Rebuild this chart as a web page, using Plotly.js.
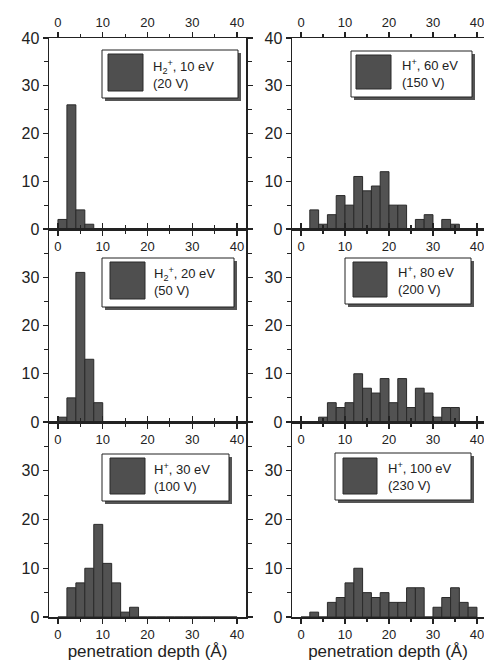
<!DOCTYPE html>
<html><head><meta charset="utf-8">
<script src="https://cdn.plot.ly/plotly-3.0.1.min.js"></script>
<style>html,body{margin:0;padding:0;background:#fff}</style>
</head><body><div id="chart" style="width:484px;height:664px"></div>
<script>
// bin centres (Å), bins 2 Å wide: 0-2, 2-4, ... 38-40
const depthBins = [1,3,5,7,9,11,13,15,17,19,21,23,25,27,29,31,33,35,37,39];
// counts per bin
const h2_10eV  = [2,26,4,1,0,0,0,0,0,0,0,0,0,0,0,0,0,0,0,0];
const h2_20eV  = [1,5,31,13,4,0,0,0,0,0,0,0,0,0,0,0,0,0,0,0];
const h_30eV   = [0,6,7,10,19,11,7,1,2,0,0,0,0,0,0,0,0,0,0,0];
const h_60eV   = [0,4,1,3,7,5,11,8,9,12,5,5,0,2,3,0,2,1,0,0];
const h_80eV   = [0,0,1,4,3,4,10,7,6,9,4,9,3,7,6,1,3,3,0,0];
const h_100eV  = [0,1,0,3,4,7,10,5,4,5,3,3,6,6,0,2,4,6,3,2];
const xTickVals = [0,10,20,30,40];
const yTickValsTop = [0,10,20,30,40];
const yTickValsLower = [0,10,20,30];
const minorTickVals = [5,15,25,35];
const panelLabels = [
  "H<sub>2</sub><sup>+</sup>, 10 eV<br>(20 V)",
  "H<sup>+</sup>, 60 eV<br>(150 V)",
  "H<sub>2</sub><sup>+</sup>, 20 eV<br>(50 V)",
  "H<sup>+</sup>, 80 eV<br>(200 V)",
  "H<sup>+</sup>, 30 eV<br>(100 V)",
  "H<sup>+</sup>, 100 eV<br>(230 V)"
];
const xTitle = "penetration depth (Å)";

const W = 484, H = 664;
const px = v => v / W;
const py = v => 1 - v / H;
const FONT = "Liberation Sans, Arial, sans-serif";
const INK = "#222";

const series = [h2_10eV, h_60eV, h2_20eV, h_80eV, h_30eV, h_100eV];
const traces = series.map((vals, i) => ({
  type: "bar", x: depthBins, y: vals, width: 2,
  xaxis: "x" + (i === 0 ? "" : i + 1), yaxis: "y" + (i === 0 ? "" : i + 1),
  marker: {color: "#525252", line: {color: "#2a2a2a", width: 1}},
  showlegend: false, hoverinfo: "skip"
}));
// dummy traces so the top tick-label axes are drawn
traces.push({type: "scatter", x: [], y: [], xaxis: "x7", yaxis: "y", showlegend: false});
traces.push({type: "scatter", x: [], y: [], xaxis: "x8", yaxis: "y2", showlegend: false});

const colDom = [[px(49), px(246)], [px(292), 1]];
const colRange = [[-2, 42], [-2.05, 41.6]];
const rowDom = [[py(229), py(38)], [py(422), py(229)], [py(617), py(422)]];

const layout = {
  width: W, height: H, margin: {l: 0, r: 0, t: 0, b: 0},
  paper_bgcolor: "#fff", plot_bgcolor: "rgba(0,0,0,0)",
  font: {family: FONT, color: INK},
  bargap: 0, shapes: [], annotations: []
};

function xAxisDef(col, extra) {
  return Object.assign({
    range: colRange[col], domain: colDom[col], tickmode: "array", tickvals: xTickVals,
    ticks: "outside", ticklen: 5, tickwidth: 1.3, tickcolor: INK,
    minor: {tickmode: "array", tickvals: minorTickVals, ticks: "outside", ticklen: 3, tickwidth: 1.2, tickcolor: INK},
    showline: true, linecolor: INK, linewidth: 1.5, mirror: "ticks",
    showgrid: false, zeroline: false, fixedrange: true, ticklabeloverflow: "allow",
    tickfont: {size: 13, family: FONT, color: INK}
  }, extra || {});
}
function yAxisDef(row, extra) {
  return Object.assign({
    range: [0, 40], domain: rowDom[row], tickmode: "array",
    tickvals: row === 0 ? yTickValsTop : yTickValsLower,
    ticks: "outside", ticklen: 5, tickwidth: 1.3, tickcolor: INK,
    minor: {tickmode: "array", tickvals: minorTickVals, ticks: "outside", ticklen: 4, tickwidth: 1.2, tickcolor: INK},
    showline: true, linecolor: INK, linewidth: 1.5, mirror: "ticks",
    showgrid: false, zeroline: false, fixedrange: true, ticklabeloverflow: "allow",
    tickfont: {size: 16, family: FONT, color: INK}
  }, extra || {});
}

for (let i = 0; i < 6; i++) {
  const row = Math.floor(i / 2), col = i % 2;
  const s = i === 0 ? "" : String(i + 1);
  const extraX = {anchor: "y" + s};
  if (row === 2) extraX.title = {text: xTitle, font: {size: 17, family: FONT, color: INK}, standoff: 0};
  layout["xaxis" + s] = xAxisDef(col, extraX);
  layout["yaxis" + s] = yAxisDef(row, {anchor: "x" + s});
}
layout.xaxis7 = xAxisDef(0, {anchor: "y", overlaying: "x", side: "top", showline: false});
layout.xaxis8 = xAxisDef(1, {anchor: "y2", overlaying: "x2", side: "top", showline: false});

// legend boxes (pixel positions): box, swatch, text x, text y centre
const boxes = [
  {b: [102, 50, 238, 98], s: [108, 54, 143, 91], tx: 151, ty: 74},
  {b: [351, 51, 472, 97], s: [356, 55, 391, 89], tx: 400, ty: 73},
  {b: [102, 258, 234, 307], s: [110, 262, 145, 299], tx: 152, ty: 282},
  {b: [345, 258, 471, 304], s: [353, 262, 387, 297], tx: 396, ty: 281},
  {b: [102, 454, 229, 501], s: [110, 458, 145, 494], tx: 152, ty: 477},
  {b: [335, 453, 471, 500], s: [343, 458, 377, 494], tx: 386, ty: 476}
];
boxes.forEach((bx, i) => {
  const [x0, y0, x1, y1] = bx.b;
  layout.shapes.push({type: "rect", xref: "paper", yref: "paper",
    x0: px(x0 + 3), x1: px(x1 + 3), y0: py(y1 + 3), y1: py(y0 + 3),
    fillcolor: "#555", line: {width: 0}});
  layout.shapes.push({type: "rect", xref: "paper", yref: "paper",
    x0: px(x0), x1: px(x1), y0: py(y1), y1: py(y0),
    fillcolor: "#fff", line: {color: INK, width: 1}});
  const [sx0, sy0, sx1, sy1] = bx.s;
  layout.shapes.push({type: "rect", xref: "paper", yref: "paper",
    x0: px(sx0), x1: px(sx1), y0: py(sy1), y1: py(sy0),
    fillcolor: "#4f4f4f", line: {color: "#2a2a2a", width: 1}});
  layout.annotations.push({xref: "paper", yref: "paper", x: px(bx.tx), y: py(bx.ty),
    xanchor: "left", yanchor: "middle", align: "left", showarrow: false,
    text: panelLabels[i], font: {size: 13, family: FONT, color: INK}});
});

Plotly.newPlot("chart", traces, layout, {staticPlot: true, displayModeBar: false});
</script></body></html>
